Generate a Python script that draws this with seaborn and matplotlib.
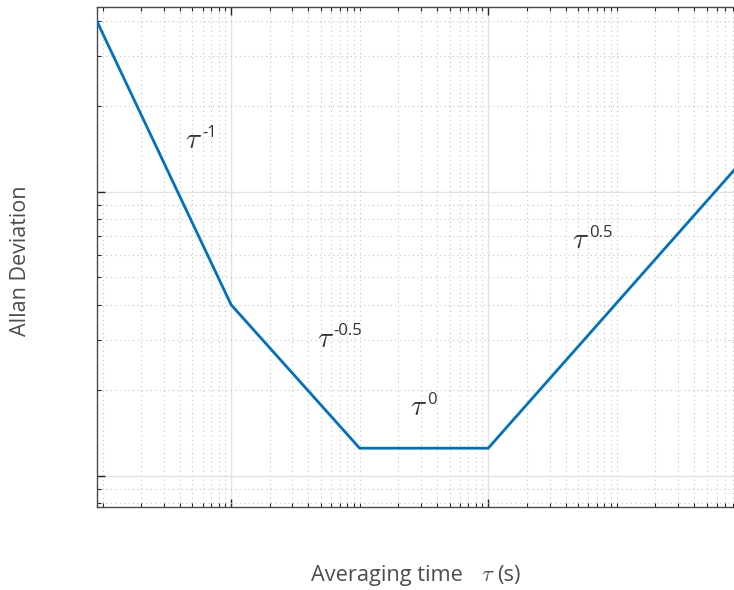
import numpy as np
import pandas as pd
import seaborn as sns
import matplotlib
matplotlib.use("Agg")
import matplotlib.pyplot as plt
from matplotlib.ticker import FixedLocator, LogLocator, NullFormatter

# Idealised Allan deviation curve: break points of the piecewise power law
tau = [0.09, 1.0, 10.0, 100.0, 1.0e4]
adev = [40.0, 4.0, 1.25, 1.25, 13.2]

# Slope annotations: exponent text and anchor (tau, adev) of the tau glyph
slope_labels = ["-1", "-0.5", "0", "0.5"]
slope_tau = [0.438, 4.64, 24.7, 448.0]
slope_adev = [14.2, 2.84, 1.63, 6.33]

df = pd.DataFrame({"tau": tau, "adev": adev})

sns.set_theme(style="white")
plt.rcParams["font.family"] = ["Open Sans", "DejaVu Sans"]
plt.rcParams["mathtext.fontset"] = "cm"

fig = plt.figure(figsize=(7.34, 5.90), dpi=100)
ax = fig.add_axes([0.1317, 0.1412, 0.8837, 0.8469])

sns.lineplot(data=df, x="tau", y="adev", ax=ax, color="#0072BD",
             linewidth=2.0, zorder=5)

ax.set_xscale("log")
ax.set_yscale("log")
ax.set_xlim(0.09, 1.0e4)
ax.set_ylim(0.778, 44.7)

ax.xaxis.set_major_locator(FixedLocator([1.0, 100.0, 1.0e4]))
ax.xaxis.set_minor_locator(LogLocator(base=10, subs=np.arange(1, 10), numticks=50))
ax.yaxis.set_major_locator(FixedLocator([1.0, 10.0]))
ax.yaxis.set_minor_locator(LogLocator(base=10, subs=np.arange(1, 10), numticks=50))
for a in (ax.xaxis, ax.yaxis):
    a.set_major_formatter(NullFormatter())
    a.set_minor_formatter(NullFormatter())

ax.grid(True, which="major", color="#e3e3e3", linewidth=1.0, linestyle="-")
ax.grid(True, which="minor", color="#c4c4c4", linewidth=0.8, linestyle=(0, (1, 3)))
ax.set_axisbelow(True)

for s in ax.spines.values():
    s.set_visible(True)
    s.set_color("#4a4a4a")
    s.set_linewidth(1.0)

ax.tick_params(which="both", direction="in", top=True, right=True,
               bottom=True, left=True, colors="#262626",
               labelbottom=False, labelleft=False)
ax.tick_params(which="major", length=6, width=1.0)
ax.tick_params(which="minor", length=3, width=0.8)

ax.set_xlabel("")
ax.set_ylabel("")

text_color = "#333333"
for lab, tx, ty in zip(slope_labels, slope_tau, slope_adev):
    ax.text(tx, ty, r"$\tau$", fontsize=21, color=text_color,
            ha="left", va="baseline", zorder=6)
    ax.annotate(lab, xy=(tx, ty), xytext=(12.3, 8.3), textcoords="offset points",
                fontsize=12, color=text_color, ha="left", va="baseline", zorder=6)

label_color = "#4d4d4d"
base_y = (590 - 581) / 590
fig.text(311 / 734, base_y, "Averaging time", fontsize=15.7, color=label_color,
         ha="left", va="baseline")
fig.text(481 / 734, base_y, r"$\tau$", fontsize=16.5, color=label_color,
         ha="left", va="baseline")
fig.text(497.5 / 734, base_y, "(s)", fontsize=15.7, color=label_color,
         ha="left", va="baseline")
fig.text(21 / 734, (590 - 261) / 590, "Allan Deviation", fontsize=15.5,
         color=label_color, rotation=90, ha="center", va="center")

fig.savefig("out.png", dpi=100)
